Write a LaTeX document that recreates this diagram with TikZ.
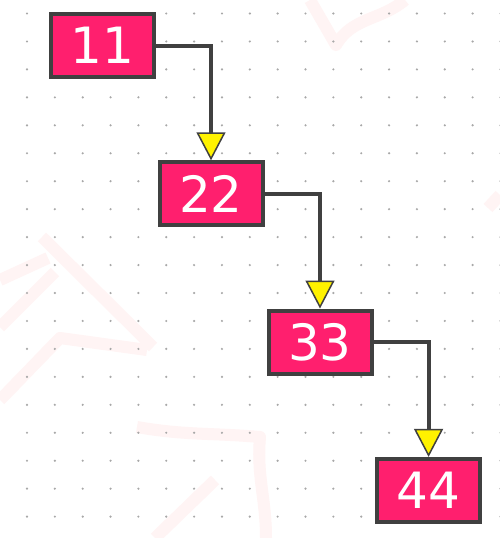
\documentclass[tikz,border=0pt]{standalone}
\usepackage{fontspec}
\setmainfont{DejaVu Sans}
\usetikzlibrary{arrows.meta}
\definecolor{pinkc}{HTML}{FF1F6E}
\definecolor{borderc}{HTML}{404040}
\definecolor{dotc}{HTML}{A8A8A8}
\definecolor{wmc}{HTML}{FFF4F4}
\tikzset{
  numbox/.style={draw=borderc, fill=pinkc, line width=4pt, minimum width=103pt,
    minimum height=63pt, inner sep=0pt, text=white, font=\fontsize{50}{50}\selectfont},
  link/.style={draw=borderc, line width=4pt,
    -{Triangle[width=29pt,length=28pt,fill=yellow,line width=1.5pt]}},
  wm/.style={draw=wmc, line width=12pt, line join=round}
}
\begin{document}
\begin{tikzpicture}[x=1pt,y=-1pt]
\useasboundingbox (0,0) rectangle (500,538);
\fill[white] (0,0) rectangle (500,538);
% watermark strokes
\draw[wm] (310,0) -- (336,45) to[out=60,in=-140] (405,0);
\draw[wm] (0,280) -- (48,258);
\draw[wm] (42,237) -- (153,347);
\draw[wm] (0,327) -- (55,272);
\draw[wm] (0,400) -- (60,338) -- (147,350);
\draw[wm] (137,427) to[out=-10,in=175] (260,437) to[out=-95,in=90] (266,538);
\draw[wm] (215,480) -- (155,538);
\draw[wm] (488,208) -- (500,195);
% dotted grid
\foreach \i in {0,...,17}
  \foreach \j in {0,...,18}
    \fill[dotc] (27+27.85*\i, 13.5+27.95*\j) circle (1.2);
% nodes
\node[numbox] (n11) at (102.5,45.5) {11};
\node[numbox] (n22) at (211,193.8) {22};
\node[numbox] (n33) at (320,342) {33};
\node[numbox] (n44) at (428.6,490.4) {44};
% connectors
\draw[link] (n11.east) -| (n22.north);
\draw[link] (n22.east) -| (n33.north);
\draw[link] (n33.east) -| (n44.north);
\end{tikzpicture}
\end{document}
